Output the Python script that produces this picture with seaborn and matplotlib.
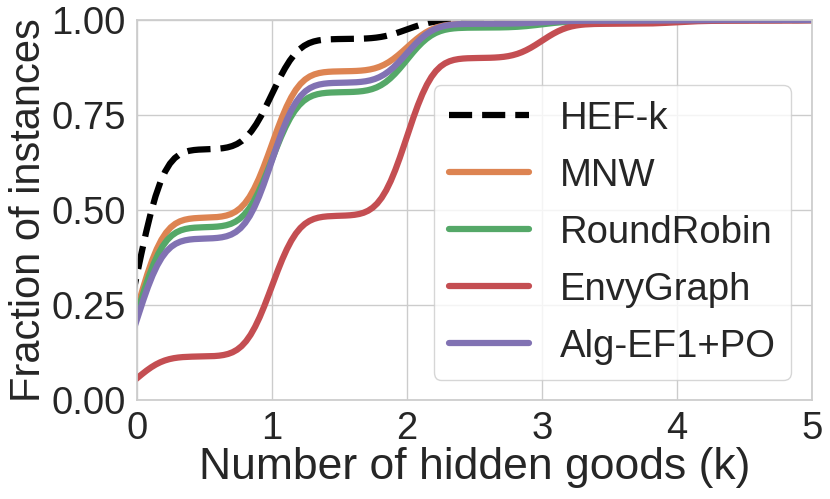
import numpy as np
import matplotlib
matplotlib.use("Agg")
import matplotlib.pyplot as plt
import seaborn as sns

# number of hidden goods k and fraction of instances with exactly k hidden goods
ks = [0, 1, 2, 3, 4, 5]
hef_k = [0.66, 0.29, 0.05, 0.0, 0.0, 0.0]
mnw = [0.48, 0.385, 0.125, 0.008, 0.002, 0.0]
round_robin = [0.455, 0.355, 0.17, 0.017, 0.003, 0.0]
envy_graph = [0.115, 0.37, 0.415, 0.09, 0.008, 0.002]
alg_ef1_po = [0.425, 0.41, 0.155, 0.008, 0.002, 0.0]

series = ["HEF-k", "MNW", "RoundRobin", "EnvyGraph", "Alg-EF1+PO"]
values = [hef_k, mnw, round_robin, envy_graph, alg_ef1_po]

sns.set_theme(style="whitegrid")
plt.rcParams["font.family"] = ["Liberation Sans", "DejaVu Sans"]

pal = sns.color_palette("deep")
colors = ["black", pal[1], pal[2], pal[3], pal[4]]
styles = ["--", "-", "-", "-", "-"]

fig, ax = plt.subplots(figsize=(8.3, 4.99), dpi=100)
bw = 0.155
for name, w, c, ls in zip(series, values, colors, styles):
    w = np.array(w)
    x = np.array(ks, dtype=float)
    sd = np.sqrt(np.cov(x, aweights=w + 1e-12))
    sns.kdeplot(x=x, weights=w + 1e-12, cumulative=True, bw_method=bw / sd,
                color=c, linestyle=ls, linewidth=4.5, label=name, ax=ax)

ax.set_xlim(0, 5)
ax.set_ylim(0, 1)
ax.set_xticks(ks)
ax.set_yticks([0, 0.25, 0.5, 0.75, 1.0])
ax.set_yticklabels(["0.00", "0.25", "0.50", "0.75", "1.00"])
ax.tick_params(labelsize=27.5, pad=2)
ax.set_xlabel("Number of hidden goods (k)", fontsize=32, labelpad=0)
ax.set_ylabel("Fraction of instances", fontsize=30, labelpad=2)
ax.legend(fontsize=27.5, loc="lower right", bbox_to_anchor=(0.969, 0.053),
          borderaxespad=0, handlelength=2.1, labelspacing=0.55)

fig.subplots_adjust(left=0.165, right=0.978, top=0.96, bottom=0.198)
fig.savefig("out.png", dpi=100)
